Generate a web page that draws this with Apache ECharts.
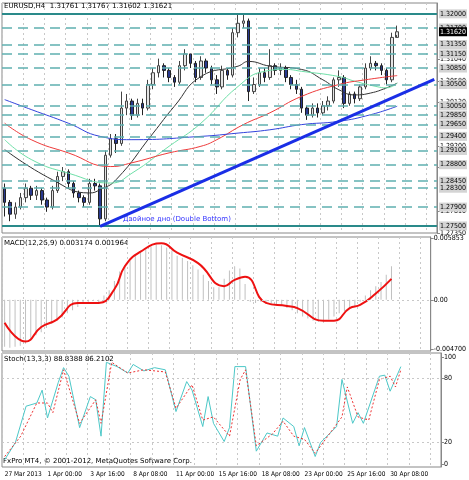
<!DOCTYPE html>
<html><head><meta charset="utf-8">
<script src="https://cdn.jsdelivr.net/npm/echarts@6/dist/echarts.min.js"></script>
<style>html,body{margin:0;padding:0;background:#fff}#content_data{width:469px;height:480px}</style>
</head><body><div id="content_data"></div>
<script>
// EURUSD H4 chart, one candle per 8 hours
const tickLabels = ['27 Mar 2013','1 Apr 00:00','3 Apr 16:00','8 Apr 08:00','11 Apr 00:00','15 Apr 16:00','18 Apr 08:00','23 Apr 00:00','25 Apr 16:00','30 Apr 08:00'];
const firstOpen = 1.2830;
const closes = [1.2800,1.2775,1.2790,1.2810,1.2830,1.2815,1.2825,1.2805,1.2790,1.2825,1.2855,1.2865,1.2840,1.2820,1.2810,1.2800,1.2840,1.2835,1.2765,1.2900,
  1.2935,1.2925,1.3000,1.3015,1.2985,1.3010,1.3000,1.3050,1.3075,1.3090,1.3080,1.3065,1.3055,1.3090,1.3115,1.3095,1.3065,1.3100,1.3085,1.3060,
  1.3045,1.3080,1.3070,1.3160,1.3180,1.3185,1.3035,1.3050,1.3075,1.3065,1.3090,1.3080,1.3085,1.3065,1.3050,1.3040,1.3000,1.2985,1.3000,1.2990,
  1.3005,1.3015,1.3060,1.3065,1.3010,1.3030,1.3020,1.3045,1.3085,1.3095,1.3090,1.3080,1.3060,1.3150,1.3162];
const lows = [1.2770,1.2760,1.2765,1.2785,1.2800,1.2805,1.2805,1.2795,1.2780,1.2785,1.2820,1.2845,1.2830,1.2810,1.2800,1.2790,1.2795,1.2825,1.2750,1.2760,
  1.2895,1.2905,1.2920,1.2985,1.2975,1.2980,1.2985,1.2995,1.3040,1.3065,1.3065,1.3055,1.3045,1.3050,1.3080,1.3085,1.3055,1.3060,1.3075,1.3050,
  1.3030,1.3040,1.3060,1.3065,1.3150,1.3170,1.3015,1.3030,1.3045,1.3055,1.3060,1.3070,1.3070,1.3055,1.3040,1.3030,1.2990,1.2975,1.2980,1.2980,
  1.2985,1.2995,1.3010,1.3045,1.3000,1.3005,1.3010,1.3015,1.3040,1.3080,1.3080,1.3070,1.3050,1.3055,1.3155];
const highs = [1.2840,1.2805,1.2800,1.2820,1.2840,1.2835,1.2835,1.2830,1.2810,1.2835,1.2865,1.2875,1.2870,1.2845,1.2825,1.2815,1.2850,1.2850,1.2840,1.2910,
  1.2945,1.2945,1.3035,1.3030,1.3020,1.3020,1.3020,1.3060,1.3085,1.3105,1.3095,1.3085,1.3070,1.3100,1.3125,1.3115,1.3100,1.3110,1.3105,1.3090,
  1.3070,1.3090,1.3085,1.3170,1.3200,1.3200,1.3190,1.3065,1.3085,1.3085,1.3125,1.3095,1.3095,1.3090,1.3070,1.3060,1.3045,1.3005,1.3010,1.3010,
  1.3015,1.3025,1.3065,1.3080,1.3070,1.3035,1.3035,1.3050,1.3095,1.3110,1.3100,1.3095,1.3085,1.3160,1.3175];

// moving averages as [index, price]
const maBlack = [[0,1.2912],[9,1.2848],[16,1.2820],[18,1.2827],[21,1.2848],[28,1.2947],[32,1.3004],[37,1.3067],[44,1.3089],[46,1.3099],[50,1.3089],[56,1.3082],[60,1.3060],[63,1.3039],[66,1.3028],[69,1.3032],[72,1.3043],[74,1.3053]];
const maGreen = [[0,1.2933],[5,1.2891],[12,1.2862],[20,1.2841],[24,1.2862],[31,1.2919],[37,1.2968],[44,1.3046],[49,1.3078],[53,1.3082],[56,1.3078],[63,1.3067],[66,1.3057],[70,1.3046],[72,1.3043],[74,1.3053]];
const maRed = [[0,1.2968],[5,1.2933],[12,1.2905],[20,1.2876],[24,1.2884],[31,1.2905],[37,1.2919],[40,1.2933],[45,1.2965],[50,1.2990],[56,1.3025],[63,1.3050],[68,1.3060],[74,1.3069]];
const maBlue = [[0,1.3018],[5,1.2997],[12,1.2968],[18,1.2940],[24,1.2933],[37,1.2940],[44,1.2947],[50,1.2954],[56,1.2965],[63,1.2972],[69,1.2986],[74,1.3004]];
const levels = [1.3170,1.3135,1.3115,1.3085,1.3050,1.3005,1.2985,1.2965,1.2940,1.2910,1.2880,1.2845,1.2830,1.2790];
const strongLevels = [1.3200,1.2750];
const trendLine = [[18,1.2749],[81,1.3061]];

const macdHist = [-.0045,-.0046,-.0045,-.0044,-.0042,-.0038,-.0034,-.0031,-.0027,-.0023,-.0020,-.0017,-.0013,-.0010,-.0007,-.0004,-.0002,-.0001,-.0003,.0004,
  .0009,.0018,.0027,.0033,.0037,.0042,.0046,.0049,.0051,.0053,.0052,.0050,.0047,.0042,.0040,.0037,.0033,.0029,.0024,.0018,
  .0012,.0012,.0020,.0028,.0032,.0030,.0015,-.0002,-.0003,-.0002,-.0004,-.0004,-.0005,-.0006,-.0008,-.0010,-.0013,-.0016,-.0018,-.0020,
  -.0021,-.0022,-.0019,-.0016,-.0013,-.0011,-.0009,-.0007,-.0002,.0004,.0009,.0013,.0017,.0024,.0032];
const macdSignal = [[0,-.0022],[4,-.0040],[7,-.0026],[10,-.0019],[14,-.0003],[18,-.0003],[21,.0010],[23,.0032],[26,.0046],[30,.0054],[33,.0045],[37,.0035],[42,.0013],[44,.0019],[46,.0022],[50,-.0003],[54,-.0006],[56,-.0008],[61,-.0020],[63,-.0020],[66,-.0008],[68,-.0005],[71,.0006],[74,.0020]];

const stochMain = [[0,4],[2,20],[4,54],[6,57],[7,69],[8,43],[10,76],[11,90],[12,82],[14,34],[16,63],[17,60],[18,26],[19,95],[21,91],[23,85],[24,93],[26,87],[28,90],[30,88],[32,49],[34,77],[35,69],[37,35],[38,63],[39,38],[41,21],[42,34],[43,91],[45,91],[47,12],[49,29],[51,26],[52,43],[54,35],[55,17],[56,34],[58,7],[59,20],[62,35],[63,79],[65,38],[66,48],[67,38],[70,82],[71,83],[72,68],[74,91]];
const stochSignal = [[0,7],[3,26],[6,57],[8,57],[9,48],[11,88],[14,38],[17,60],[18,38],[20,95],[23,85],[26,88],[30,86],[32,52],[35,74],[37,41],[39,44],[42,26],[44,79],[45,88],[47,17],[50,28],[52,40],[54,26],[56,23],[58,10],[63,44],[64,72],[66,44],[68,41],[70,79],[72,82],[73,72],[74,88]];

const nSlots = 82;
const categories = [];
for (let i = 0; i < nSlots; i++) categories.push(String(i));
const candles = closes.map((c, i) => [i === 0 ? firstOpen : closes[i - 1], c, lows[i], highs[i]]);

const lbl = { fontFamily: 'DejaVu Sans Condensed', fontSize: 7, color: '#000' };
const xBase = (gi, showLabels) => ({
    type: 'category', gridIndex: gi, data: categories, boundaryGap: true,
    axisLine: { show: false }, axisTick: { show: false },
    axisLabel: showLabels ? { ...lbl, fontSize: 6.5, align: 'left', margin: 4, interval: 0,
        formatter: (v, i) => (i % 8 === 0 && tickLabels[i / 8]) ? tickLabels[i / 8] : '' } : { show: false },
    splitLine: { show: true, interval: (i) => i % 4 === 0, lineStyle: { color: '#c8c8c8', type: [2, 3] } }
});
const yBase = (gi, min, max, vals, fmt) => ({
    type: 'value', gridIndex: gi, position: 'right', min: min, max: max, scale: true,
    axisLine: { show: true, lineStyle: { color: '#888' } },
    axisTick: { show: true, customValues: vals, length: 3, lineStyle: { color: '#888' } },
    axisLabel: { ...lbl, customValues: vals, margin: 3, formatter: fmt },
    splitLine: { show: false }
});

const levelLines = levels.map(v => ({ yAxis: v, lineStyle: { color: '#5fb0b0', type: [10, 6], width: 1.5 } }))
    .concat(strongLevels.map(v => ({ yAxis: v, lineStyle: { color: '#2a8a8a', type: 'solid', width: 2 } })))
    .concat([{ yAxis: 1.3162, lineStyle: { width: 0, color: '#fff' }, label: { backgroundColor: '#000', color: '#fff' } }]);

let Chart = echarts.init(document.getElementById('content_data'));
Chart.setOption({
    animation: false,
    backgroundColor: '#fff',
    grid: [
        { left: 2, right: 28, top: 3, height: 230, show: true, borderColor: '#888', borderWidth: 1 },
        { left: 2, right: 28, top: 237, height: 114, show: true, borderColor: '#888', borderWidth: 1 },
        { left: 2, right: 28, top: 353, height: 114, show: true, borderColor: '#888', borderWidth: 1 }
    ],
    xAxis: [xBase(0, false), xBase(1, false), xBase(2, true)],
    yAxis: [
        yBase(0, 1.2735, 1.3223, [1.3104, 1.3058, 1.3013, 1.2920, 1.2874, 1.2781, 1.2735], v => v.toFixed(5)),
        yBase(1, -0.0049, 0.0060, [0.005853, 0, -0.0047], v => v === 0 ? '0.00' : v.toFixed(6)),
        yBase(2, -2.8, 103.7, [0, 20, 80, 100], v => String(v))
    ],
    graphic: [
        { type: 'text', left: 4, top: 3, style: { text: 'EURUSD,H4  1.31761 1.31767 1.31602 1.31621', font: '7px "DejaVu Sans"', fill: '#000' } },
        { type: 'text', left: 123, top: 216, style: { text: 'Двойное дно (Double Bottom)', font: '7px "DejaVu Sans"', fill: '#3333ff' } },
        { type: 'text', left: 4, top: 240, style: { text: 'MACD(12,26,9) 0.003174 0.001964', font: '7px "DejaVu Sans"', fill: '#000' } },
        { type: 'text', left: 4, top: 356, style: { text: 'Stoch(13,3,3) 88.8388 86.2102', font: '7px "DejaVu Sans"', fill: '#000' } },
        { type: 'text', left: 3, top: 458, style: { text: 'FxPro MT4, © 2001-2012, MetaQuotes Software Corp.', font: '7px "DejaVu Sans"', fill: '#000' } }
    ],
    series: [
        {
            name: 'levels', type: 'line', xAxisIndex: 0, yAxisIndex: 0, data: [], silent: true,
            markLine: {
                symbol: 'none', silent: true, precision: 5, data: levelLines,
                label: { position: 'end', distance: 2, fontFamily: 'DejaVu Sans Condensed', fontSize: 7, color: '#000',
                    backgroundColor: '#d4d4d4', padding: [1, 1], formatter: p => Number(p.value).toFixed(5) }
            }
        },
        {
            name: 'EURUSD', type: 'candlestick', xAxisIndex: 0, yAxisIndex: 0, data: candles, barWidth: 3,
            itemStyle: { color: '#e4e4e4', borderColor: '#444', color0: '#2a3a90', borderColor0: '#222', borderWidth: 1 },
            markLine: {
                symbol: 'none', silent: true, precision: 5, label: { show: false },
                lineStyle: { color: '#1a2ee6', width: 3, type: 'solid' },
                data: [[{ coord: trendLine[0] }, { coord: trendLine[1] }]]
            }
        },
        { type: 'line', xAxisIndex: 0, yAxisIndex: 0, data: maBlack, showSymbol: false, smooth: true, lineStyle: { color: '#333', width: 1 } },
        { type: 'line', xAxisIndex: 0, yAxisIndex: 0, data: maGreen, showSymbol: false, smooth: true, lineStyle: { color: '#6ee0a8', width: 1 } },
        { type: 'line', xAxisIndex: 0, yAxisIndex: 0, data: maRed, showSymbol: false, smooth: true, lineStyle: { color: '#ee3b3b', width: 1 } },
        { type: 'line', xAxisIndex: 0, yAxisIndex: 0, data: maBlue, showSymbol: false, smooth: true, lineStyle: { color: '#3344dd', width: 1 } },
        {
            name: 'MACD', type: 'bar', xAxisIndex: 1, yAxisIndex: 1, data: macdHist, barWidth: 1,
            itemStyle: { color: '#c0c0c0' },
            markLine: { symbol: 'none', silent: true, label: { show: false }, lineStyle: { color: '#c8c8c8', type: [2, 3], width: 1 }, data: [{ yAxis: 0 }] }
        },
        { name: 'Signal', type: 'line', xAxisIndex: 1, yAxisIndex: 1, data: macdSignal, showSymbol: false, smooth: true, lineStyle: { color: '#ee1111', width: 2 } },
        {
            name: 'Stoch', type: 'line', xAxisIndex: 2, yAxisIndex: 2, data: stochMain, showSymbol: false, lineStyle: { color: '#4cc8c8', width: 1 },
            markLine: { symbol: 'none', silent: true, label: { show: false }, lineStyle: { color: '#c8c8c8', type: [2, 3], width: 1 }, data: [{ yAxis: 20 }, { yAxis: 80 }] }
        },
        { name: 'StochSignal', type: 'line', xAxisIndex: 2, yAxisIndex: 2, data: stochSignal, showSymbol: false, lineStyle: { color: '#ee3333', width: 1, type: [2, 2] } }
    ]
});
</script></body></html>
